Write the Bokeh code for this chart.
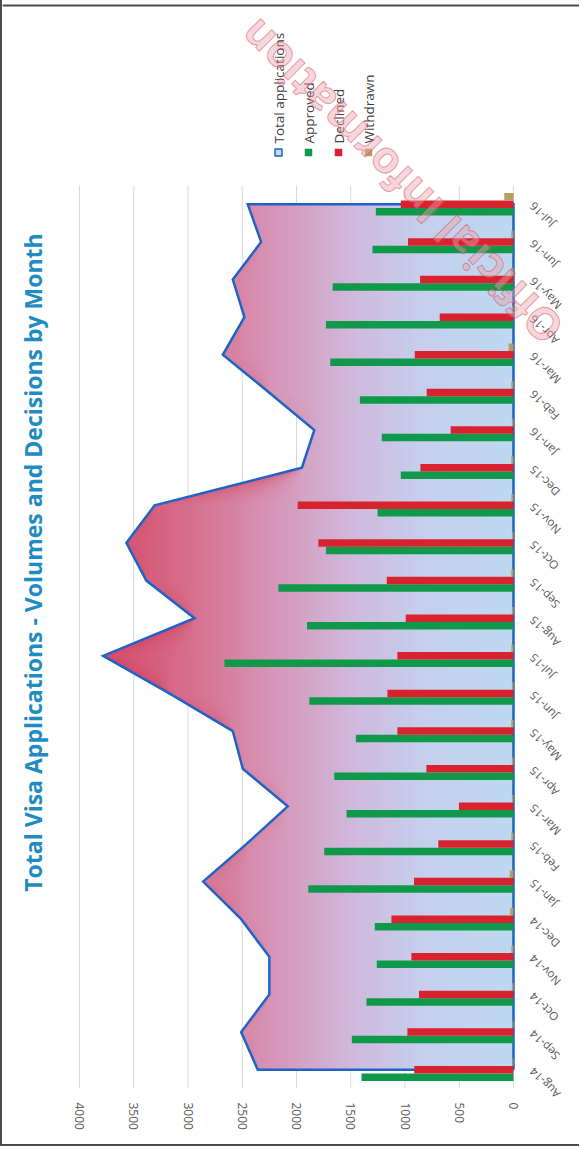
import numpy as np
from math import pi
from bokeh.plotting import figure
from bokeh.models import Range1d, FixedTicker
from bokeh.core.properties import value
from bokeh.embed import file_html
from bokeh.resources import INLINE

# ---------------- data ----------------
months = ["Aug-14", "Sep-14", "Oct-14", "Nov-14", "Dec-14", "Jan-15", "Feb-15", "Mar-15",
          "Apr-15", "May-15", "Jun-15", "Jul-15", "Aug-15", "Sep-15", "Oct-15", "Nov-15",
          "Dec-15", "Jan-16", "Feb-16", "Mar-16", "Apr-16", "May-16", "Jun-16", "Jul-16"]
total_applications = [2357, 2510, 2250, 2250, 2510, 2860, 2460, 2081, 2495, 2587, 3172, 3782,
                      2940, 3384, 3568, 3307, 1950, 1836, 2253, 2679, 2480, 2587, 2326, 2449]
approved = [1401, 1490, 1355, 1260, 1278, 1891, 1744, 1539, 1652, 1453, 1882, 2664,
            1903, 2167, 1729, 1253, 1039, 1214, 1416, 1689, 1729, 1667, 1300, 1269]
declined = [915, 978, 871, 941, 1125, 917, 693, 503, 803, 1070, 1162, 1070,
            993, 1168, 1799, 1989, 858, 579, 800, 910, 680, 861, 972, 1039]
withdrawn = [10, 10, 15, 20, 30, 35, 20, 15, 15, 20, 15, 20,
             15, 20, 15, 20, 20, 15, 20, 45, 15, 25, 20, 85]
value_ticks = [0, 500, 1000, 1500, 2000, 2500, 3000, 3500, 4000]
legend_labels = ["Total applications", "Approved", "Declined", "Withdrawn"]
title_text = "Total Visa Applications - Volumes and Decisions by Month"
watermark_text = "Official Information"

# ---------------- layout (page pixels) ----------------
PAGE_W = 581
BORDER = 2                     # css border on the left and bottom of the figure
W, H = PAGE_W - BORDER, 1146   # canvas size
FL, FR, FT, FB = 79, 513, 185, 1088   # value 4000..0 spans FL..FR ; months span FT..FB
FRAME_BOTTOM = 1100
XMAX = 4000
n = len(months)
Y0, Y1 = -0.5, n - 0.5

def xd(px):
    return XMAX * (FR - px) / (FR - FL)

def yd(py):
    return Y0 + (Y1 - Y0) * (FB - py) / (FB - FT)

GREEN = "#10994A"
RED = "#D8232F"
TAN = "#B49F5C"
BLUE = "#1F63C6"
FONT = "Open Sans"

p = figure(width=W, height=H, x_range=Range1d(xd(BORDER), xd(PAGE_W)),
           y_range=Range1d(yd(FRAME_BOTTOM), yd(0)),
           output_backend="svg", toolbar_location=None, y_axis_location=None,
           min_border_left=0, min_border_right=0, min_border_top=0,
           min_border_bottom=H - FRAME_BOTTOM)
p.outline_line_color = None
p.background_fill_color = "white"
p.border_fill_color = "white"
p.xgrid.visible = False
p.ygrid.visible = False
p.styles = {"border-left": "2px solid #4a4a4a", "border-bottom": "2px solid #4a4a4a"}

ax = p.xaxis[0]
ax.ticker = FixedTicker(ticks=value_ticks)
ax.major_label_orientation = "vertical"
ax.axis_line_color = None
ax.major_tick_line_color = None
ax.minor_tick_line_color = None
ax.major_tick_out = 0
ax.major_tick_in = 0
ax.major_label_standoff = 2
ax.major_label_text_font = FONT
ax.major_label_text_font_size = "12px"
ax.major_label_text_color = "#595959"

# ---------------- gridlines (value axis), limited to the plot area ----------------
p.segment(x0=value_ticks, y0=Y0, x1=value_ticks, y1=Y1, line_color="#D9D9D9", line_width=1)

# ---------------- gradient-filled area ----------------
idx = np.arange(n)
tot = np.array(total_applications, dtype=float)
stop_v = [0, 800, 1500, 2200, 3000, 3800]
stop_rgb = [(190, 216, 240), (197, 208, 238), (208, 184, 220), (214, 150, 184),
            (214, 110, 140), (212, 74, 104)]

def grad_color(v):
    r = int(round(np.interp(v, stop_v, [c[0] for c in stop_rgb])))
    g = int(round(np.interp(v, stop_v, [c[1] for c in stop_rgb])))
    b = int(round(np.interp(v, stop_v, [c[2] for c in stop_rgb])))
    return "#%02x%02x%02x" % (r, g, b)

step = 40
edges = np.arange(step, XMAX + step, step)
for b in edges[::-1]:
    if b - step >= tot.max():
        continue
    p.harea(x1=np.zeros(n), x2=np.minimum(tot, b), y=idx, fill_color=grad_color(b - step / 2))

outline_x = np.concatenate([[0], tot, [0, 0]])
outline_y = np.concatenate([[idx[0]], idx, [idx[-1], idx[0]]])
p.line(outline_x, outline_y, line_color=BLUE, line_width=2.5, line_join="miter")

# ---------------- bars ----------------
bw = 0.2
p.hbar(y=idx - bw, left=0, right=approved, height=bw, fill_color=GREEN, line_color=None)
p.hbar(y=idx, left=0, right=declined, height=bw, fill_color=RED, line_color=None)
p.hbar(y=idx + bw, left=0, right=withdrawn, height=bw, fill_color=TAN, line_color=None)

# ---------------- month labels (rotated) ----------------
p.text(x=xd(531), y=idx, text=months, angle=3 * pi / 4,
       text_align=value("right"), text_baseline=value("middle"),
       text_font=value(FONT), text_font_size=value("11.5px"), text_color="#595959")

# ---------------- title ----------------
p.text(x=[xd(32)], y=[yd(562)], text=[title_text], angle=pi / 2,
       text_align=value("center"), text_baseline=value("middle"), text_font=value(FONT),
       text_font_style=value("bold"), text_font_size=value("23px"), text_color="#1E8BC3")

# ---------------- legend ----------------
leg_x = [xd(278 + 30 * i) for i in range(len(legend_labels))]
p.rect(x=leg_x, y=yd(152), width=7, height=7, width_units="screen", height_units="screen",
       fill_color=["#C6D9F0", GREEN, RED, TAN], line_color=[BLUE, GREEN, RED, TAN],
       line_width=[1.5, 0.5, 0.5, 0.5])
p.text(x=leg_x, y=yd(143), text=legend_labels, angle=pi / 2,
       text_align=value("left"), text_baseline=value("middle"), text_font=value(FONT),
       text_font_size=value("13.5px"), text_color="#404040")

# ---------------- watermark ----------------
p.text(x=[xd(400)], y=[yd(182)], text=[watermark_text], angle=3 * pi / 4,
       text_align=value("center"), text_baseline=value("middle"), text_font=value(FONT),
       text_font_style=value("bold"), text_font_size=value("44px"), text_color="#E9A3AC",
       text_alpha=0.45, text_outline_color="#D8344A")

# ---------------- outer border (top) ----------------
p.line(x=[xd(PAGE_W + 20), xd(BORDER)], y=[yd(5), yd(5)], line_color="#4a4a4a", line_width=2)

open("out.html", "w").write(file_html(p, INLINE))
